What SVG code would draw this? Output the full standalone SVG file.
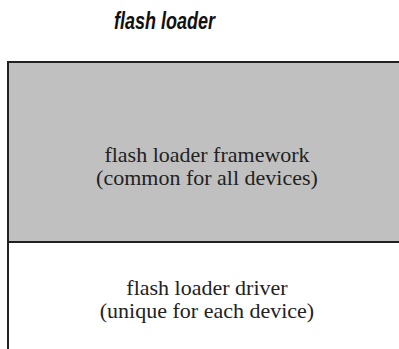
<svg xmlns="http://www.w3.org/2000/svg" width="399" height="349" viewBox="0 0 399 349">
<style>
.box{stroke:#222;stroke-width:2}
.t{font-family:"Liberation Serif","Times New Roman",serif;font-size:22px;fill:#222;text-anchor:middle}
.title{font-family:"Liberation Sans",Arial,sans-serif;font-size:23px;font-weight:bold;font-style:italic;fill:#111}
</style>
<rect width="399" height="349" fill="#fff"/>
<g id="title">
<text class="title" x="114" y="29" textLength="101" lengthAdjust="spacingAndGlyphs">flash loader</text>
</g>
<g id="framework">
<rect class="box" x="8" y="62" width="400" height="180" fill="#c0c0c0"/>
<text class="t" x="207" y="162">flash loader framework</text>
<text class="t" x="207" y="185">(common for all devices)</text>
</g>
<g id="driver">
<path class="box" d="M8 242 H400 M8 242 V350" fill="none"/>
<text class="t" x="207" y="295">flash loader driver</text>
<text class="t" x="207" y="318">(unique for each device)</text>
</g>
<g id="connectors"/>
</svg>
